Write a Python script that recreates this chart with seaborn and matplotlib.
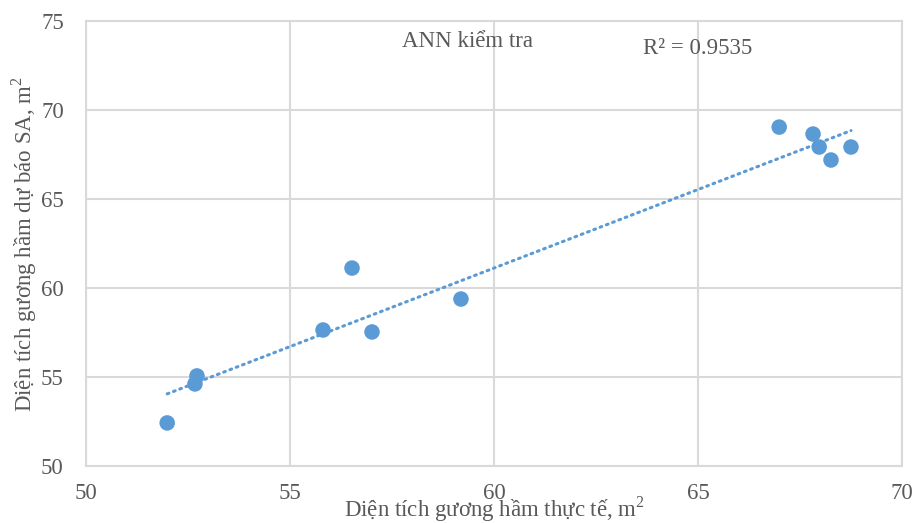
import numpy as np
import pandas as pd
import matplotlib
matplotlib.use("Agg")
import matplotlib.pyplot as plt
import seaborn as sns

actual = [51.99, 52.67, 52.72, 55.81, 56.52, 57.01, 59.19, 66.99, 67.82, 67.97, 68.26, 68.75]
predicted = [52.42, 54.61, 55.06, 57.64, 61.12, 57.53, 59.38, 69.04, 68.65, 67.92, 67.19, 67.92]
x_ticks = [50, 55, 60, 65, 70]
y_ticks = [50, 55, 60, 65, 70, 75]
title_text = "ANN kiểm tra"
r2_text = "R² = 0.9535"
x_label = "Diện tích gương hầm thực tế, m$^2$"
y_label = "Diện tích gương hầm dự báo SA, m$^2$"

df = pd.DataFrame({"actual": actual, "predicted": predicted})

sns.set_theme(style="white")
plt.rcParams['font.family'] = ['Liberation Serif', 'DejaVu Serif']
plt.rcParams['mathtext.fontset'] = 'custom'
plt.rcParams['mathtext.rm'] = 'Liberation Serif'

blue = "#5B9BD5"
grid_c = "#D9D9D9"
txt_c = "#595959"
fs = 16.5

fig = plt.figure(figsize=(9.16, 5.23), dpi=100)
ax = fig.add_axes([86/916, 1 - 466/523, (902-86)/916, (466-21)/523])

sns.scatterplot(data=df, x="actual", y="predicted", ax=ax, color=blue, s=125,
                edgecolor="none", zorder=3)

coef = np.polyfit(df["actual"], df["predicted"], 1)
xs = np.linspace(min(actual), max(actual), 50)
sns.lineplot(x=xs, y=np.polyval(coef, xs), ax=ax, color=blue, lw=2.2,
             linestyle=(0, (0.6, 1.6)), dash_capstyle="round", zorder=2)

ax.set_xlim(50, 70)
ax.set_ylim(50, 75)
ax.set_xticks(x_ticks)
ax.set_yticks(y_ticks)
ax.grid(True, color=grid_c, lw=1.5)
ax.set_axisbelow(True)
for sp in ax.spines.values():
    sp.set_color(grid_c)
    sp.set_linewidth(1.5)
ax.tick_params(axis="both", length=0, labelsize=fs, colors=txt_c)
ax.tick_params(axis="x", pad=12)
ax.tick_params(axis="y", pad=16)

ax.set_xlabel(x_label, fontsize=fs, color=txt_c)
ax.xaxis.label.set_va("baseline")
ax.xaxis.set_label_coords(0.5, (466 - 517) / 445)
ax.set_ylabel(y_label, fontsize=fs, color=txt_c)
ax.yaxis.label.set_va("center")
ax.yaxis.set_label_coords((24 - 86) / 816, (466 - 244) / 445)

fig.text(467.5/916, 1 - 47/523, title_text, ha="center", va="baseline", fontsize=fs, color=txt_c)
fig.text(697.5/916, 1 - 54/523, r2_text, ha="center", va="baseline", fontsize=fs, color=txt_c)

fig.savefig("out.png", dpi=100)
